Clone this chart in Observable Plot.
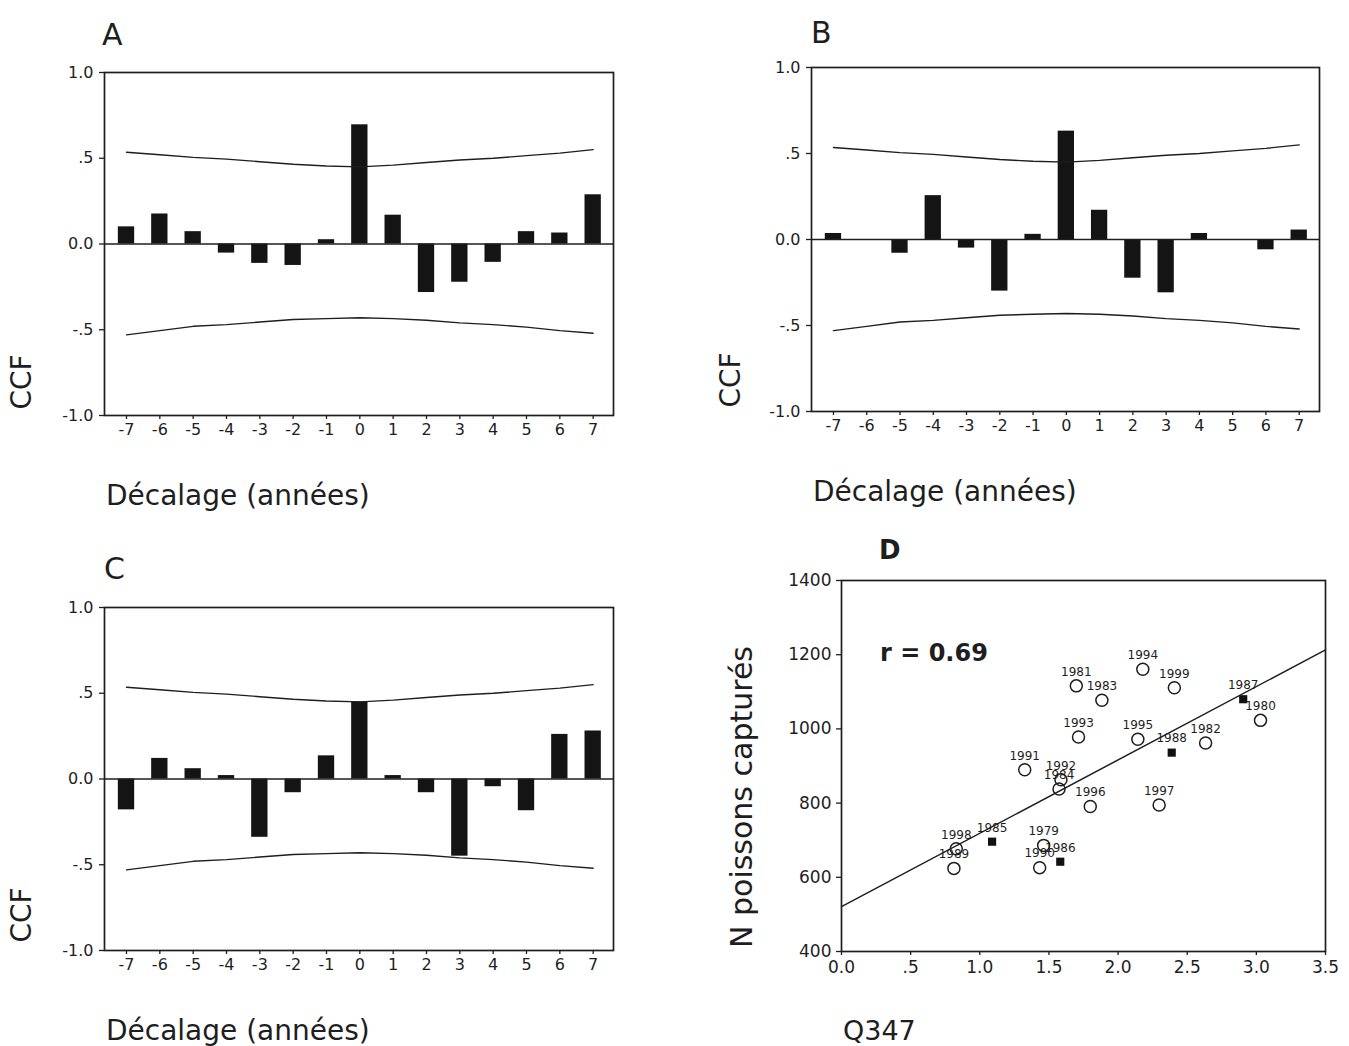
<!DOCTYPE html>
<html>
<head>
<meta charset="utf-8">
<script src="https://cdn.jsdelivr.net/npm/d3@7"></script>
<script src="https://cdn.jsdelivr.net/npm/@observablehq/plot@0.6"></script>
<style>
  html, body { margin: 0; padding: 0; background: #fff; }
  #page { position: relative; width: 1349px; height: 1046px; background: #fff; overflow: hidden; font-family: "DejaVu Sans", sans-serif; color: #1e1e1e; }
  .panel { position: absolute; }
  .lbl { position: absolute; white-space: nowrap; line-height: 1; }
</style>
</head>
<body>
<div id="page"></div>
<script>
// ---------- DATA ----------
const lags = [-7, -6, -5, -4, -3, -2, -1, 0, 1, 2, 3, 4, 5, 6, 7];
const ccfA = [0.10, 0.175, 0.072, -0.053, -0.113, -0.125, 0.025, 0.695, 0.168, -0.283, -0.223, -0.107, 0.072, 0.064, 0.287];
const ccfB = [0.035, 0.0, -0.08, 0.255, -0.05, -0.30, 0.03, 0.63, 0.17, -0.225, -0.31, 0.035, 0.0, -0.06, 0.055];
const ccfC = [-0.18, 0.12, 0.06, 0.02, -0.34, -0.08, 0.135, 0.45, 0.02, -0.08, -0.45, -0.045, -0.185, 0.26, 0.28];
const upperLimit = [0.535, 0.52, 0.505, 0.495, 0.48, 0.465, 0.455, 0.45, 0.46, 0.475, 0.49, 0.50, 0.515, 0.53, 0.55];
const lowerLimit = [-0.53, -0.505, -0.48, -0.47, -0.455, -0.44, -0.435, -0.43, -0.435, -0.445, -0.46, -0.47, -0.485, -0.505, -0.52];
const ccfTicks = [-1, -0.5, 0, 0.5, 1];
const ccfTickLabels = ["-1.0", "-.5", "0.0", ".5", "1.0"];

const years = [1979, 1980, 1981, 1982, 1983, 1984, 1985, 1986, 1987, 1988, 1989, 1990, 1991, 1992, 1993, 1994, 1995, 1996, 1997, 1998, 1999];
const q347  = [1.462, 3.030, 1.698, 2.633, 1.883, 1.573, 1.089, 1.582, 2.905, 2.388, 0.813, 1.433, 1.325, 1.587, 1.714, 2.179, 2.143, 1.799, 2.297, 0.830, 2.407];
const nFish = [686, 1023, 1116, 962, 1077, 838, 696, 642, 1080, 936, 624, 626, 890, 863, 978, 1161, 972, 791, 795, 677, 1111];
const filledYears = [1985, 1986, 1987, 1988];
const fitQ = [0, 3.5];
const fitN = [521, 1213];
const qTicks = [0, 0.5, 1, 1.5, 2, 2.5, 3, 3.5];
const qTickLabels = ["0.0", ".5", "1.0", "1.5", "2.0", "2.5", "3.0", "3.5"];
const nTicks = [400, 600, 800, 1000, 1200, 1400];
const nTickLabels = ["400", "600", "800", "1000", "1200", "1400"];

// ---------- HELPERS ----------
const page = document.getElementById("page");
const INK = "#1e1e1e";
const FONT = "DejaVu Sans, sans-serif";

function place(node, left, top) {
  const d = document.createElement("div");
  d.className = "panel";
  d.style.left = left + "px";
  d.style.top = top + "px";
  d.appendChild(node);
  page.appendChild(d);
}

// enlarge the axis tick labels (every text that is not a year label)
function sizeTicks(svg, size) {
  const yearSet = new Set(years.map(String));
  svg.querySelectorAll("text").forEach(t => {
    const g = t.closest("g");
    const aria = (g && g.getAttribute("aria-label")) || "";
    if (/axis/.test(aria) || !yearSet.has(t.textContent)) {
      t.style.fontSize = size + "px";
      t.setAttribute("font-size", size);
    }
  });
  return svg;
}

function text(str, left, baseline, size, bold) {
  const d = document.createElement("div");
  d.className = "lbl";
  d.textContent = str;
  d.style.left = left + "px";
  d.style.top = (baseline - 0.846 * size) + "px";
  d.style.fontSize = size + "px";
  if (bold) d.style.fontWeight = "bold";
  page.appendChild(d);
}

function vtext(str, cx, cy, size) {
  const d = document.createElement("div");
  d.className = "lbl";
  d.textContent = str;
  d.style.left = cx + "px";
  d.style.top = cy + "px";
  d.style.fontSize = size + "px";
  d.style.transform = "translate(-50%,-50%) rotate(-90deg)";
  page.appendChild(d);
}

function ccfPlot(values, m) {
  const rows = lags.map((lag, i) => ({lag, ccf: values[i], upper: upperLimit[i], lower: lowerLimit[i]}));
  const fmt = d => ccfTickLabels[ccfTicks.indexOf(d)];
  const svg = Plot.plot({
    width: m.width, height: m.height,
    marginLeft: m.left, marginRight: m.right, marginTop: m.top, marginBottom: m.bottom,
    x: {domain: [-7.66, 7.61]},
    y: {domain: [-1, 1]},
    style: {fontFamily: FONT, fontSize: "16px", color: INK, background: "white", overflow: "visible"},
    marks: [
      Plot.rect(rows, {x1: d => d.lag - 0.245, x2: d => d.lag + 0.245, y1: 0, y2: "ccf", fill: "#141414"}),
      Plot.ruleY([0], {stroke: INK, strokeWidth: 1.5}),
      Plot.lineY(rows, {x: "lag", y: "upper", stroke: INK, strokeWidth: 1.4}),
      Plot.lineY(rows, {x: "lag", y: "lower", stroke: INK, strokeWidth: 1.4}),
      Plot.frame({stroke: INK, strokeWidth: 1.7}),
      Plot.axisX({ticks: lags, tickFormat: d => String(d), tickSize: 4, tickPadding: 4, label: null, stroke: INK, strokeWidth: 1.3}),
      Plot.axisY({ticks: ccfTicks, tickFormat: fmt, tickSize: 5, tickPadding: 6, label: null, stroke: INK, strokeWidth: 1.3})
    ]
  });
  return sizeTicks(svg, 16);
}

function scatterPlot(m) {
  const rows = years.map((year, i) => ({year, q: q347[i], n: nFish[i], filled: filledYears.includes(year)}));
  const fit = fitQ.map((q, i) => ({q, n: fitN[i]}));
  const svg = Plot.plot({
    width: m.width, height: m.height,
    marginLeft: m.left, marginRight: m.right, marginTop: m.top, marginBottom: m.bottom,
    x: {domain: [0, 3.5]},
    y: {domain: [400, 1400]},
    style: {fontFamily: FONT, fontSize: "16px", color: INK, background: "white", overflow: "visible"},
    marks: [
      Plot.line(fit, {x: "q", y: "n", stroke: INK, strokeWidth: 1.5}),
      Plot.dot(rows.filter(d => !d.filled), {x: "q", y: "n", r: 6, stroke: INK, strokeWidth: 1.5, fill: "white", fillOpacity: 0}),
      Plot.dot(rows.filter(d => d.filled), {x: "q", y: "n", r: 4.6, symbol: "square", fill: "#111", stroke: "none"}),
      Plot.text(rows, {x: "q", y: "n", text: d => String(d.year), dy: -14, fontSize: 12, fill: INK}),
      Plot.frame({stroke: INK, strokeWidth: 1.7}),
      Plot.axisX({ticks: qTicks, tickFormat: d => qTickLabels[qTicks.indexOf(d)], tickSize: 4, tickPadding: 5, label: null, stroke: INK, strokeWidth: 1.3}),
      Plot.axisY({ticks: nTicks, tickFormat: d => nTickLabels[nTicks.indexOf(d)], tickSize: 5, tickPadding: 5, label: null, stroke: INK, strokeWidth: 1.3})
    ]
  });
  return sizeTicks(svg, 17);
}

// ---------- PANELS ----------
place(ccfPlot(ccfA, {width: 600, height: 400, left: 64, right: 27, top: 17, bottom: 40}), 40, 55);
place(ccfPlot(ccfB, {width: 600, height: 400, left: 66, right: 26, top: 17, bottom: 39}), 745, 50);
place(ccfPlot(ccfC, {width: 600, height: 400, left: 64, right: 27, top: 17, bottom: 40}), 40, 590);
place(scatterPlot({width: 570, height: 425, left: 66, right: 20, top: 15, bottom: 39}), 775, 565);

// ---------- TEXTS ----------
text("A", 102, 45, 30);
text("B", 811, 43, 30);
text("C", 104, 579, 30);
text("D", 879, 559, 26, true);

vtext("CCF", 22, 382, 28);
vtext("CCF", 731, 380, 28);
vtext("CCF", 22, 915, 28);

text("Décalage (années)", 106, 506, 28);
text("Décalage (années)", 813, 502, 28);
text("Décalage (années)", 106, 1041, 28);

vtext("N poissons capturés", 742, 797, 30);
text("Q347", 843, 1040, 27);
text("r = 0.69", 880, 661, 24, true);
</script>
</body>
</html>
